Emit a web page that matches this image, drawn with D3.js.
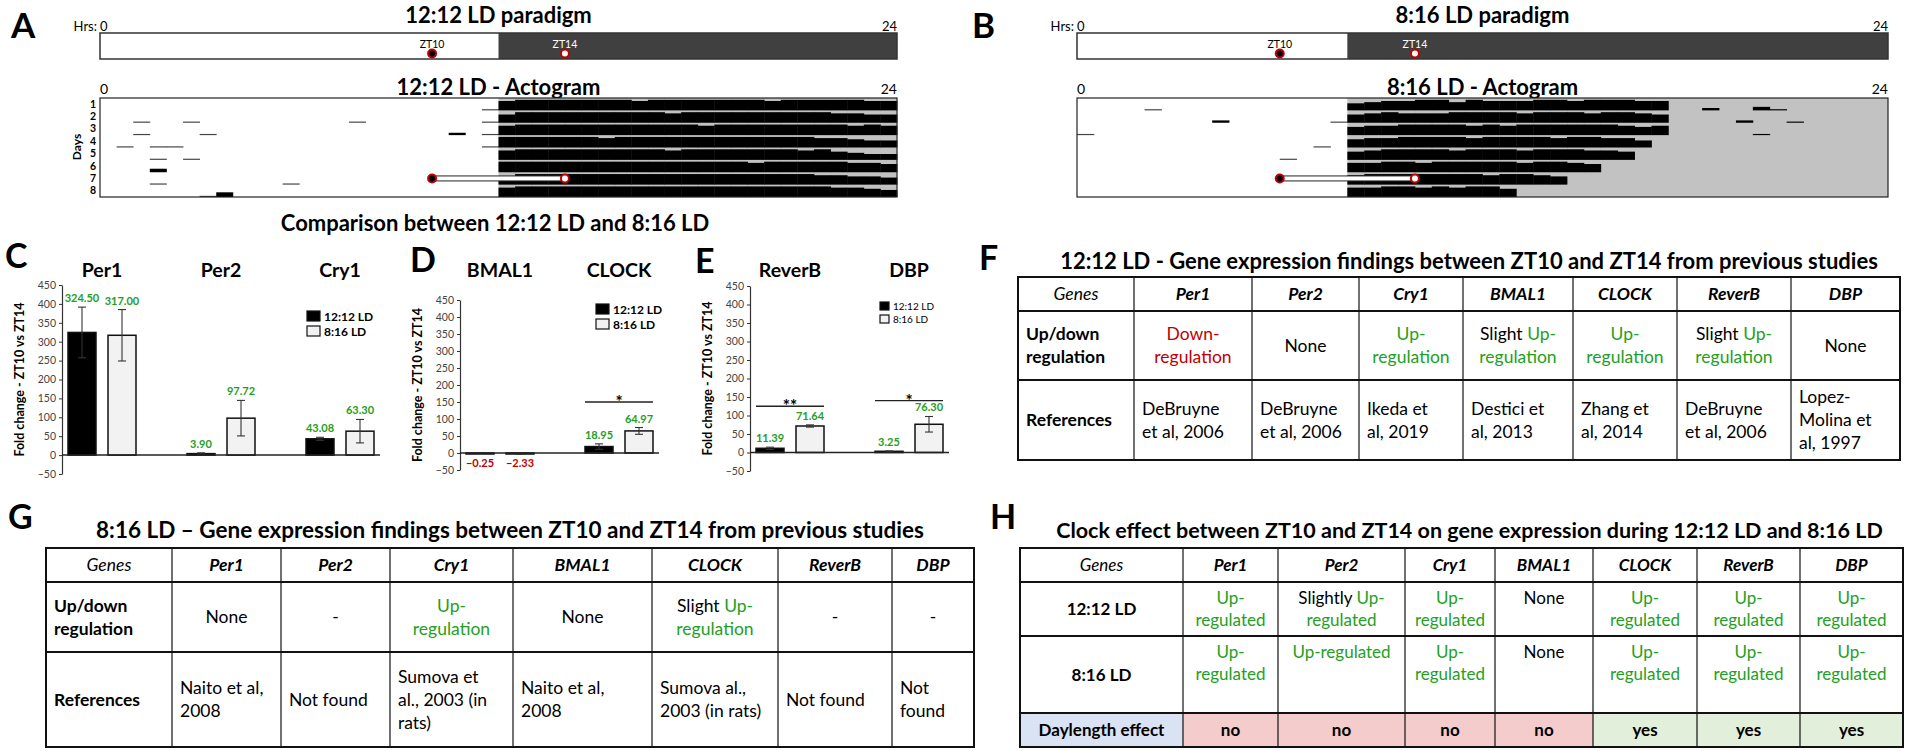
<!DOCTYPE html>
<html>
<head>
<meta charset="utf-8">
<script src="https://cdn.jsdelivr.net/npm/d3@7"></script>
<style>
  body { margin: 0; background: #fff; }
  svg text { font-family: Lato, "Open Sans", sans-serif; white-space: pre; }
</style>
</head>
<body>
<svg id="fig" width="1908" height="751"></svg>
<script>
(function() {
  'use strict';

  // ---- values ----
  var hourDomain = [0, 24];
  var lightHours = [12, 8];               // 12:12 LD, 8:16 LD
  var sampleLabels = ['ZT10', 'ZT14'];
  var sampleShift = [-2, 2];              // sampled 2 h before / after lights off
  var paradigmTitles = ['12:12 LD paradigm', '8:16 LD paradigm'];
  var actogramTitles = ['12:12 LD - Actogram', '8:16 LD - Actogram'];
  var days = [1, 2, 3, 4, 5, 6, 7, 8];
  var markerDay = 7;
  var binHours = 0.5;
  // activity per half-hour bin, 0 (none) .. 9 (full row)
  var actogramA = [
    '000000000000000000000001' + '899999998999999989999988',
    '001001000000000100000001' + '799999999989999999998877',
    '001000100000000000000201' + '899999999999899999999898',
    '010110000000000000000001' + '999999899999999999988766',
    '000101000000000000000000' + '899999999989999999897655',
    '000300000000000000000000' + '999999999999999899999887',
    '000100000001000000000000' + '799999999999999999988776',
    '000000140000000000000000' + '899999999999999999998876'
  ];
  var actogramB = [
    '0000100000000000' + '6788997988899899988' + '0020031000000',
    '0000000020000001' + '7898889999899989987' + '0000200100000',
    '1000000000000000' + '7889999898999999878' + '0000010000000',
    '0000000000000010' + '7889999899998998860' + '0000000000000',
    '0000000000001000' + '7899998999899988700' + '0000000000000',
    '0000000000000000' + '8899899999899870000' + '0000000000000',
    '0000000000000000' + '8999999989987000000' + '0000000000000',
    '0000000000000000' + '8899898997000000000' + '0000000000000'
  ];

  var seriesNames = ['12:12 LD', '8:16 LD'];
  var yTicks = [-50, 0, 50, 100, 150, 200, 250, 300, 350, 400, 450];

  var genesC = ['Per1', 'Per2', 'Cry1'];
  var c1212 = [324.50, 3.90, 43.08];
  var c816 = [317.00, 97.72, 63.30];
  var c1212Err = [67, 2, 4];
  var c816Err = [68, 47, 31];

  var genesD = ['BMAL1', 'CLOCK'];
  var d1212 = [-0.25, 18.95];
  var d816 = [-2.33, 64.97];
  var d1212Err = [1, 8];
  var d816Err = [1, 10];
  var sigD = [{gene: 'CLOCK', mark: '*', at: 150}];

  var genesE = ['ReverB', 'DBP'];
  var e1212 = [11.39, 3.25];
  var e816 = [71.64, 76.30];
  var e1212Err = [3, 1];
  var e816Err = [3, 21];
  var sigE = [{gene: 'ReverB', mark: '**', at: 125}, {gene: 'DBP', mark: '*', at: 140}];

  // tables: {..} = green text, [..] = red text
  var tableGenes = ['Per1', 'Per2', 'Cry1', 'BMAL1', 'CLOCK', 'ReverB', 'DBP'];
  var fRegulation = [['[Down-]', '[regulation]'], ['None'], ['{Up-}', '{regulation}'], ['Slight {Up-}', '{regulation}'],
                     ['{Up-}', '{regulation}'], ['Slight {Up-}', '{regulation}'], ['None']];
  var fReferences = [['DeBruyne', 'et al, 2006'], ['DeBruyne', 'et al, 2006'], ['Ikeda et', 'al, 2019'], ['Destici et', 'al, 2013'],
                     ['Zhang et', 'al, 2014'], ['DeBruyne', 'et al, 2006'], ['Lopez-', 'Molina et', 'al, 1997']];
  var gRegulation = [['None'], ['-'], ['{Up-}', '{regulation}'], ['None'], ['Slight {Up-}', '{regulation}'], ['-'], ['-']];
  var gReferences = [['Naito et al,', '2008'], ['Not found'], ['Sumova et', 'al., 2003 (in', 'rats)'], ['Naito et al,', '2008'],
                     ['Sumova al.,', '2003 (in rats)'], ['Not found'], ['Not', 'found']];
  var h1212 = [['{Up-}', '{regulated}'], ['Slightly {Up-}', '{regulated}'], ['{Up-}', '{regulated}'], ['None'],
               ['{Up-}', '{regulated}'], ['{Up-}', '{regulated}'], ['{Up-}', '{regulated}']];
  var h816 = [['{Up-}', '{regulated}'], ['{Up-regulated}'], ['{Up-}', '{regulated}'], ['None'],
              ['{Up-}', '{regulated}'], ['{Up-}', '{regulated}'], ['{Up-}', '{regulated}']];
  var hDaylength = ['no', 'no', 'no', 'no', 'yes', 'yes', 'yes'];

  var GREEN = '#23a023', RED = '#c00000';
  var svg = d3.select('#fig');

  function label(g, x, y, s, size, weight, anchor) {
    return g.append('text').attr('x', x).attr('y', y).attr('font-size', size)
      .attr('font-weight', weight || 400).attr('text-anchor', anchor || 'start').text(s);
  }

  // ---- A / B : paradigm bars and actograms ----
  var topPanels = [
    {letter: 'A', letterX: 11, x0: 100, x1: 897, idx: 0, acto: actogramA, dayLabels: true},
    {letter: 'B', letterX: 972, x0: 1077, x1: 1888, idx: 1, acto: actogramB, dayLabels: false}
  ];

  topPanels.forEach(function(p) {
    var g = svg.append('g');
    var x = d3.scaleLinear().domain(hourDomain).range([p.x0, p.x1]);
    var off = lightHours[p.idx];
    var mid = (p.x0 + p.x1) / 2;

    label(g, p.letterX, 38, p.letter, 35, 700);
    label(g, mid, 23, paradigmTitles[p.idx], 22, 700, 'middle');
    label(g, p.x0 - 3, 31, 'Hrs:', 13, 400, 'end');
    label(g, x(hourDomain[0]), 31, String(hourDomain[0]), 13);
    label(g, x(hourDomain[1]), 31, String(hourDomain[1]), 13, 400, 'end');

    g.append('rect').attr('x', p.x0).attr('y', 33).attr('width', p.x1 - p.x0).attr('height', 26).attr('fill', '#fff');
    g.append('rect').attr('x', x(off)).attr('y', 33).attr('width', x(24) - x(off)).attr('height', 26).attr('fill', '#404040');
    g.append('rect').attr('x', p.x0).attr('y', 33).attr('width', p.x1 - p.x0).attr('height', 26)
      .attr('fill', 'none').attr('stroke', '#333').attr('stroke-width', 1.5);

    sampleLabels.forEach(function(s, i) {
      var sx = x(off + sampleShift[i]);
      label(g, sx, 48, s, 10.5, 400, 'middle').attr('fill', i ? '#fff' : '#000');
      g.append('circle').attr('cx', sx).attr('cy', 53.5).attr('r', 4)
        .attr('fill', i ? '#fff' : '#000').attr('stroke', RED).attr('stroke-width', 2);
    });

    // actogram
    label(g, x(hourDomain[0]), 94, String(hourDomain[0]), 14);
    label(g, mid, 95, actogramTitles[p.idx], 22, 700, 'middle');
    label(g, x(hourDomain[1]), 94, String(hourDomain[1]), 14, 400, 'end');

    var yDay = d3.scaleBand().domain(days).range([98, 197]);
    var rowH = yDay.bandwidth();
    var h = d3.scaleLinear().domain([0, 9]).range([0, rowH - 1.8]);

    g.append('rect').attr('x', p.x0).attr('y', 98).attr('width', p.x1 - p.x0).attr('height', 99).attr('fill', '#fff');
    g.append('rect').attr('x', x(off)).attr('y', 98).attr('width', x(24) - x(off)).attr('height', 99).attr('fill', '#c2c2c2');

    p.acto.forEach(function(row, i) {
      var bins = row.split('').map(Number).map(function(v, k) { return {v: v, k: k}; })
        .filter(function(d) { return d.v > 0; });
      g.selectAll(null).data(bins).enter().append('rect')
        .attr('x', function(d) { return x(d.k * binHours); })
        .attr('width', x(binHours) - x(0) + 0.4)
        .attr('y', function(d) { return yDay(days[i]) + rowH - h(d.v); })
        .attr('height', function(d) { return h(d.v); })
        .attr('fill', function(d) { return d.k * binHours < off && d.v < 2 ? '#444' : '#000'; });
    });

    var my = yDay(markerDay) + rowH / 2;
    var mx = sampleShift.map(function(s) { return x(off + s); });
    g.append('rect').attr('x', mx[0]).attr('y', my - 2.5).attr('width', mx[1] - mx[0]).attr('height', 5)
      .attr('fill', '#fff').attr('stroke', '#222').attr('stroke-width', 1);
    mx.forEach(function(cx, i) {
      g.append('circle').attr('cx', cx).attr('cy', my).attr('r', 4)
        .attr('fill', i ? '#fff' : '#000').attr('stroke', RED).attr('stroke-width', 2);
    });

    g.append('rect').attr('x', p.x0).attr('y', 98).attr('width', p.x1 - p.x0).attr('height', 99)
      .attr('fill', 'none').attr('stroke', '#222').attr('stroke-width', 1.2);

    if (p.dayLabels) {
      days.forEach(function(d) {
        label(g, p.x0 - 4, yDay(d) + rowH / 2 + 3.5, String(d), 10.5, 700, 'end');
      });
      label(g, 0, 0, 'Days', 12, 700, 'middle').attr('transform', 'translate(' + (p.x0 - 19) + ',147) rotate(-90)');
    }
  });

  // ---- C / D / E : bar charts ----
  label(svg, 495, 231, 'Comparison between 12:12 LD and 8:16 LD', 22, 700, 'middle');

  var barPanels = [
    {letter: 'C', lx: 5, ly: 268, x0: 62, yRange: [474, 285], genes: genesC,
     v: [c1212, c816], e: [c1212Err, c816Err], legend: [307, 311], small: false, sig: []},
    {letter: 'D', lx: 410, ly: 272, x0: 460, yRange: [470, 300], genes: genesD,
     v: [d1212, d816], e: [d1212Err, d816Err], legend: [596, 304], small: false, sig: sigD},
    {letter: 'E', lx: 695, ly: 273, x0: 750, yRange: [471, 286], genes: genesE,
     v: [e1212, e816], e: [e1212Err, e816Err], legend: [880, 302], small: true, sig: sigE}
  ];
  var fills = ['#000', '#f2f2f2'];
  var fmt = d3.format('.2f');

  barPanels.forEach(function(p) {
    var g = svg.append('g');
    var n = p.genes.length;
    var x = d3.scalePoint().domain(p.genes).range([p.x0 + 40, p.x0 + 40 + 119 * (n - 1)]);
    var xEnd = p.x0 + 80 + 119 * (n - 1);
    var sub = d3.scaleBand().domain(seriesNames).range([-34, 34]).paddingInner(0.3);
    var y = d3.scaleLinear().domain([yTicks[0], yTicks[yTicks.length - 1]]).range(p.yRange);

    label(g, p.lx, p.ly, p.letter, 34, 700);
    p.genes.forEach(function(gn) { label(g, x(gn), 277, gn, 19.5, 700, 'middle'); });

    var ax = g.append('g').attr('transform', 'translate(' + p.x0 + ',0)')
      .call(d3.axisLeft(y).tickValues(yTicks).tickSize(3).tickSizeOuter(0).tickPadding(3));
    ax.attr('font-family', null);
    ax.select('.domain').attr('stroke', '#333').attr('stroke-width', 1.2);
    ax.selectAll('.tick line').attr('stroke', '#333');
    ax.selectAll('.tick text').attr('font-size', 10.5).attr('fill', '#444');

    label(g, 0, 0, 'Fold change - ZT10 vs ZT14', 12.5, 700, 'middle')
      .attr('transform', 'translate(' + (p.x0 - 38) + ',' + ((p.yRange[0] + p.yRange[1]) / 2) + ') rotate(-90)');

    var data = [];
    p.genes.forEach(function(gn, i) {
      seriesNames.forEach(function(s, si) {
        data.push({gene: gn, s: s, si: si, v: p.v[si][i], e: p.e[si][i]});
      });
    });
    var bx = function(d) { return x(d.gene) + sub(d.s); };
    var bw = sub.bandwidth();

    g.selectAll(null).data(data).enter().append('rect')
      .attr('x', bx).attr('width', bw)
      .attr('y', function(d) { return Math.min(y(d.v), y(0)); })
      .attr('height', function(d) { return Math.max(Math.abs(y(d.v) - y(0)), 1); })
      .attr('fill', function(d) { return fills[d.si]; })
      .attr('stroke', '#111').attr('stroke-width', 1.5);

    var err = g.selectAll(null).data(data).enter().append('g').attr('stroke', '#333').attr('stroke-width', 1.1);
    err.append('line')
      .attr('x1', function(d) { return bx(d) + bw / 2; }).attr('x2', function(d) { return bx(d) + bw / 2; })
      .attr('y1', function(d) { return y(d.v - d.e); }).attr('y2', function(d) { return y(d.v + d.e); });
    [-1, 1].forEach(function(sg) {
      err.append('line')
        .attr('x1', function(d) { return bx(d) + bw / 2 - 4; }).attr('x2', function(d) { return bx(d) + bw / 2 + 4; })
        .attr('y1', function(d) { return y(d.v + sg * d.e); }).attr('y2', function(d) { return y(d.v + sg * d.e); });
    });

    g.append('line').attr('x1', p.x0).attr('x2', xEnd).attr('y1', y(0)).attr('y2', y(0))
      .attr('stroke', '#222').attr('stroke-width', 1.5);

    g.selectAll(null).data(data).enter().append('text')
      .attr('x', function(d) { return bx(d) + bw / 2; })
      .attr('y', function(d) { return d.v < 0 ? y(0) + 14 : y(d.v + d.e) - 5; })
      .attr('text-anchor', 'middle').attr('font-size', 11).attr('font-weight', 700)
      .attr('fill', function(d) { return d.v < 0 ? RED : GREEN; })
      .text(function(d) { return fmt(d.v); });

    p.sig.forEach(function(s) {
      var ly = y(s.at);
      g.append('line').attr('x1', x(s.gene) - 34).attr('x2', x(s.gene) + 34).attr('y1', ly).attr('y2', ly)
        .attr('stroke', '#222').attr('stroke-width', 1.3);
      label(g, x(s.gene), ly + 6, s.mark, 17, 700, 'middle');
    });

    seriesNames.forEach(function(s, i) {
      var w = p.small ? 9 : 13, hh = p.small ? 8 : 10, gap = p.small ? 13 : 15;
      g.append('rect').attr('x', p.legend[0]).attr('y', p.legend[1] + i * gap).attr('width', w).attr('height', hh)
        .attr('fill', fills[i]).attr('stroke', '#111').attr('stroke-width', 1.2);
      label(g, p.legend[0] + w + 4, p.legend[1] + i * gap + hh - 0.5, s, p.small ? 10 : 12, p.small ? 400 : 700);
    });
  });

  // ---- F / G / H : tables ----
  function segments(line) {
    var out = [], re = /\{([^}]*)\}|\[([^\]]*)\]|([^{\[]+)/g, m;
    while ((m = re.exec(line))) {
      if (m[1] !== undefined) out.push({t: m[1], c: GREEN});
      else if (m[2] !== undefined) out.push({t: m[2], c: RED});
      else out.push({t: m[3], c: '#000'});
    }
    return out;
  }

  function drawTable(t) {
    var g = svg.append('g');
    label(g, t.letterX, t.letterY, t.letter, 34, 700);
    label(g, (t.cols[0] + t.cols[t.cols.length - 1]) / 2 + (t.titleShift || 0), t.titleY, t.title, t.titleSize, 700, 'middle');
    t.cells.forEach(function(row, r) {
      row.forEach(function(cell, c) {
        var x0 = t.cols[c], x1 = t.cols[c + 1], y0 = t.rows[r], y1 = t.rows[r + 1];
        if (cell.fill) {
          g.append('rect').attr('x', x0).attr('y', y0).attr('width', x1 - x0).attr('height', y1 - y0).attr('fill', cell.fill);
        }
        var n = cell.lines.length;
        var first = cell.valign === 'top' ? y0 + 16 : (y0 + y1) / 2 - (n - 1) * t.lh / 2;
        cell.lines.forEach(function(line, i) {
          var tx = g.append('text')
            .attr('x', cell.align === 'start' ? x0 + 8 : (x0 + x1) / 2)
            .attr('y', first + i * t.lh + 6)
            .attr('text-anchor', cell.align === 'start' ? 'start' : 'middle')
            .attr('font-size', t.fs).attr('font-weight', cell.weight || 400)
            .attr('font-style', cell.style || 'normal');
          segments(line).forEach(function(sg) { tx.append('tspan').attr('fill', sg.c).text(sg.t); });
        });
      });
    });
    t.rows.forEach(function(yy) {
      g.append('line').attr('x1', t.cols[0] - 1).attr('x2', t.cols[t.cols.length - 1] + 1).attr('y1', yy).attr('y2', yy)
        .attr('stroke', '#111').attr('stroke-width', 2);
    });
    t.cols.forEach(function(xx, i) {
      var edge = i === 0 || i === t.cols.length - 1;
      g.append('line').attr('x1', xx).attr('x2', xx).attr('y1', t.rows[0]).attr('y2', t.rows[t.rows.length - 1])
        .attr('stroke', '#111').attr('stroke-width', edge ? 2 : 1.2);
    });
  }

  function header() {
    return [{lines: ['Genes'], style: 'italic'}].concat(tableGenes.map(function(gn) {
      return {lines: [gn], weight: 700, style: 'italic'};
    }));
  }
  function cellsOf(list, opts) {
    return list.map(function(lines) { return Object.assign({lines: lines}, opts || {}); });
  }

  drawTable({
    letter: 'F', letterX: 979, letterY: 270, titleY: 269, titleSize: 22, titleShift: 10,
    title: '12:12 LD - Gene expression findings between ZT10 and ZT14 from previous studies',
    cols: [1018, 1134, 1252, 1359, 1463, 1573, 1677, 1791, 1900], rows: [277, 311, 380, 460], fs: 17.5, lh: 23,
    cells: [
      header(),
      [{lines: ['Up/down', 'regulation'], weight: 700, align: 'start'}].concat(cellsOf(fRegulation)),
      [{lines: ['References'], weight: 700, align: 'start'}].concat(cellsOf(fReferences, {align: 'start'}))
    ]
  });

  drawTable({
    letter: 'G', letterX: 8, letterY: 529, titleY: 538, titleSize: 22.5,
    title: '8:16 LD \u2013 Gene expression findings between ZT10 and ZT14 from previous studies',
    cols: [46, 172, 281, 390, 513, 652, 778, 892, 974], rows: [548, 582, 652, 747], fs: 17.5, lh: 23,
    cells: [
      header(),
      [{lines: ['Up/down', 'regulation'], weight: 700, align: 'start'}].concat(cellsOf(gRegulation)),
      [{lines: ['References'], weight: 700, align: 'start'}].concat(cellsOf(gReferences, {align: 'start'}))
    ]
  });

  drawTable({
    letter: 'H', letterX: 990, letterY: 529, titleY: 538, titleSize: 21.5, titleShift: 8,
    title: 'Clock effect between ZT10 and ZT14 on gene expression during 12:12 LD and 8:16 LD',
    cols: [1020, 1183, 1278, 1405, 1495, 1593, 1697, 1800, 1903], rows: [548, 582, 636, 713, 747], fs: 17, lh: 22,
    cells: [
      header(),
      [{lines: ['12:12 LD'], weight: 700}].concat(cellsOf(h1212, {valign: 'top'})),
      [{lines: ['8:16 LD'], weight: 700}].concat(cellsOf(h816, {valign: 'top'})),
      [{lines: ['Daylength effect'], weight: 700, fill: '#dae3f3'}].concat(hDaylength.map(function(v) {
        return {lines: [v], weight: 700, fill: v === 'yes' ? '#e2efda' : '#f4cccc'};
      }))
    ]
  });
})();
</script>
</body>
</html>
